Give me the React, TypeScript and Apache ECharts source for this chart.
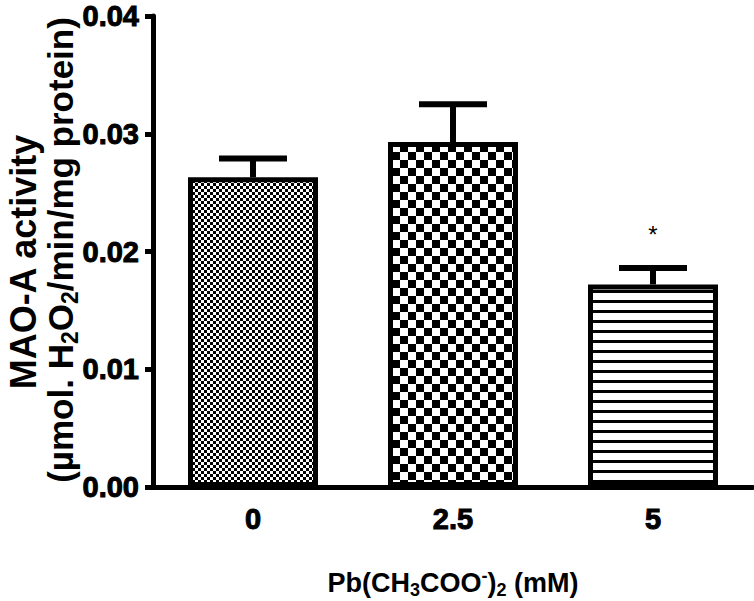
import React, { useEffect, useRef } from "react";
import * as echarts from "echarts";

const categories = ["0", "2.5", "5"];
const means = [0.0263, 0.0293, 0.0172];
const errUpper = [0.0279, 0.0325, 0.0186];
const significance = ["", "", "*"];
const yMin = 0;
const yMax = 0.04;
const yInterval = 0.01;

type PatternKind = "fine" | "coarse" | "lines";
const patternKinds: PatternKind[] = ["fine", "coarse", "lines"];

function makePattern(kind: PatternKind) {
  const c = document.createElement("canvas");
  let w = 6, h = 6;
  if (kind === "coarse") { w = 16; h = 16; }
  if (kind === "lines") { w = 10; h = 10; }
  c.width = w; c.height = h;
  const ctx = c.getContext("2d")!;
  ctx.fillStyle = "#fff";
  ctx.fillRect(0, 0, w, h);
  ctx.fillStyle = "#000";
  if (kind === "fine") {
    ctx.fillRect(0, 0, 3, 3);
    ctx.fillRect(3, 3, 3, 3);
  } else if (kind === "coarse") {
    ctx.fillRect(0, 0, 8, 8);
    ctx.fillRect(8, 8, 8, 8);
  } else {
    ctx.fillRect(0, 0, 10, 3);
  }
  return { image: c.toDataURL(), repeat: "repeat", imageWidth: w, imageHeight: h };
}

export default function App() {
  const ref = useRef<HTMLDivElement>(null);
  useEffect(() => {
    if (!ref.current) return;
    const chart = echarts.init(ref.current, null, { renderer: "svg" });
    const font = "'Liberation Sans', Arial, sans-serif";
    const option: any = {
      animation: false,
      backgroundColor: "#fff",
      grid: { left: 153, right: 1, top: 16, bottom: 114, containLabel: false },
      xAxis: {
        type: "category",
        data: categories,
        axisLine: { lineStyle: { color: "#000", width: 5 } },
        axisTick: { alignWithLabel: true, length: 10, lineStyle: { color: "#000", width: 5 } },
        axisLabel: {
          color: "#000", fontSize: 29, fontWeight: "bold", fontFamily: font, margin: 17,
          textBorderColor: "#000", textBorderWidth: 1,
        },
      },
      yAxis: {
        type: "value",
        min: yMin, max: yMax, interval: yInterval,
        axisLine: { show: true, lineStyle: { color: "#000", width: 5 } },
        axisTick: { show: true, length: 8, lineStyle: { color: "#000", width: 5 } },
        splitLine: { show: false },
        axisLabel: {
          color: "#000", fontSize: 29, fontWeight: "bold", fontFamily: font, margin: 14,
          textBorderColor: "#000", textBorderWidth: 1,
          formatter: (v: number) => v.toFixed(2),
        },
      },
      series: [
        {
          type: "bar",
          barWidth: 130,
          data: means.map((m, i) => ({
            value: m,
            itemStyle: { color: makePattern(patternKinds[i]), borderColor: "#000", borderWidth: 5 },
          })),
          z: 2,
        },
        {
          type: "custom",
          z: 3,
          encode: { x: 0, y: [1, 2] },
          data: categories.map((c, i) => [i, means[i], errUpper[i]]),
          renderItem: (params: any, api: any) => {
            const x = api.value(0);
            const top = api.coord([x, api.value(1)]);
            const up = api.coord([x, api.value(2)]);
            const half = 34;
            const children: any[] = [
              { type: "line", shape: { x1: top[0], y1: top[1], x2: up[0], y2: up[1] }, style: { stroke: "#000", lineWidth: 6 } },
              { type: "line", shape: { x1: up[0] - half, y1: up[1], x2: up[0] + half, y2: up[1] }, style: { stroke: "#000", lineWidth: 6 } },
            ];
            const sig = significance[params.dataIndex];
            if (sig) {
              children.push({
                type: "text", x: up[0], y: up[1] - 33,
                style: { text: sig, fontSize: 24, fontFamily: font, align: "center", verticalAlign: "middle", fill: "#000" },
              });
            }
            return { type: "group", children };
          },
        },
      ],
      graphic: [
        {
          type: "text", x: 23, y: 262, rotation: Math.PI / 2,
          style: { text: "MAO-A activity", fontSize: 36, fontWeight: "bold", fontFamily: font, fill: "#000", align: "center", verticalAlign: "middle" },
        },
        {
          type: "text", x: 60, y: 250, rotation: Math.PI / 2,
          style: {
            text: "(µmol. H{sub|2}O{sub|2}/min/mg protein)",
            fontSize: 35, fontWeight: "bold", fontFamily: font, fill: "#000", align: "center", verticalAlign: "middle",
            lineHeight: 42,
            rich: {
              sub: { fontSize: 23, fontWeight: "bold", fontFamily: font, lineHeight: 23, verticalAlign: "bottom" },
            },
          },
        },
        {
          type: "text", x: 453, y: 583,
          style: {
            text: "Pb(CH{sub|3}COO{sup|-}){sub|2} (mM)",
            fontSize: 27, fontWeight: "bold", fontFamily: font, fill: "#000", align: "center", verticalAlign: "middle",
            lineHeight: 32,
            rich: {
              sub: { fontSize: 18, fontWeight: "bold", fontFamily: font, lineHeight: 18, verticalAlign: "bottom" },
              sup: { fontSize: 18, fontWeight: "bold", fontFamily: font, lineHeight: 18, verticalAlign: "top" },
            },
          },
        },
      ],
    };
    chart.setOption(option);
    return () => chart.dispose();
  }, []);
  return <div ref={ref} style={{ width: 754, height: 601, position: "absolute", left: 0, top: 0 }} />;
}
